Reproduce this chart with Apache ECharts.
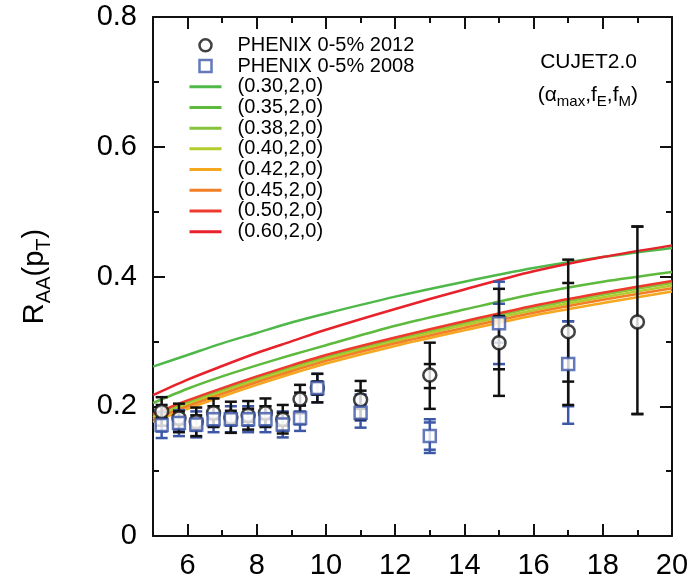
<!DOCTYPE html>
<html>
<head>
<meta charset="utf-8">
<script src="https://cdn.jsdelivr.net/npm/echarts@6/dist/echarts.min.js"></script>
<style>
  html, body { margin: 0; padding: 0; background: #fff; }
  #chart { width: 693px; height: 580px; }
</style>
</head>
<body>
<div id="chart"></div>
<script>
// PHENIX 0-5% 2012: pT, RAA, total error (down/up), statistical error (down/up)
const pt2012 = [5.25, 5.75, 6.25, 6.75, 7.25, 7.75, 8.25, 8.75, 9.25, 9.75, 11, 13, 15, 17, 19];
const raa2012 = [0.192, 0.182, 0.176, 0.190, 0.183, 0.186, 0.190, 0.180, 0.211, 0.228, 0.210, 0.248, 0.298, 0.315, 0.330];
const totLo2012 = [0.022, 0.022, 0.022, 0.022, 0.024, 0.022, 0.022, 0.022, 0.022, 0.022, 0.030, 0.052, 0.082, 0.113, 0.142];
const totHi2012 = [0.022, 0.022, 0.022, 0.022, 0.024, 0.022, 0.022, 0.022, 0.022, 0.022, 0.029, 0.050, 0.083, 0.111, 0.147];
const statLo2012 = [0.010, 0.010, 0.010, 0.010, 0.010, 0.010, 0.010, 0.010, 0.010, 0.010, 0.014, 0.020, 0.041, 0.077, 0.142];
const statHi2012 = [0.010, 0.010, 0.010, 0.010, 0.010, 0.010, 0.010, 0.010, 0.010, 0.010, 0.014, 0.017, 0.041, 0.075, 0.147];

// PHENIX 0-5% 2008
const pt2008 = [5.25, 5.75, 6.25, 6.75, 7.25, 7.75, 8.25, 8.75, 9.25, 9.75, 11, 13, 15, 17];
const raa2008 = [0.171, 0.174, 0.172, 0.180, 0.180, 0.180, 0.180, 0.172, 0.182, 0.228, 0.190, 0.154, 0.328, 0.265];
const totLo2008 = [0.020, 0.020, 0.020, 0.020, 0.020, 0.020, 0.020, 0.020, 0.020, 0.022, 0.023, 0.026, 0.063, 0.092];
const totHi2008 = [0.020, 0.020, 0.020, 0.020, 0.020, 0.020, 0.020, 0.020, 0.020, 0.022, 0.028, 0.026, 0.064, 0.066];
const statLo2008 = [0.010, 0.010, 0.010, 0.010, 0.010, 0.010, 0.010, 0.010, 0.010, 0.010, 0.012, 0.021, 0.030, 0.065];
const statHi2008 = [0.010, 0.010, 0.010, 0.010, 0.010, 0.010, 0.010, 0.010, 0.010, 0.010, 0.012, 0.021, 0.030, 0.066];

// CUJET2.0 curves (alpha_max, fE, fM), sampled on a common pT grid
const curvePt = [5, 6, 7, 8, 9, 10, 12, 14, 16, 18, 20];
const curveNames = ['(0.30,2,0)', '(0.35,2,0)', '(0.38,2,0)', '(0.40,2,0)', '(0.42,2,0)', '(0.45,2,0)', '(0.50,2,0)', '(0.60,2,0)'];
const curveColors = ['#4fb84a', '#5dba3c', '#86c23a', '#b3cc2e', '#f5a81f', '#f27f25', '#ee3a2b', '#e8222b'];
const raa030 = [0.261, 0.279, 0.297, 0.313, 0.329, 0.343, 0.369, 0.392, 0.413, 0.430, 0.444];
const raa035 = [0.205, 0.227, 0.246, 0.263, 0.279, 0.294, 0.324, 0.349, 0.373, 0.392, 0.407];
const raa038 = [0.186, 0.206, 0.225, 0.243, 0.260, 0.276, 0.303, 0.328, 0.352, 0.372, 0.390];
const raa040 = [0.183, 0.203, 0.222, 0.240, 0.257, 0.273, 0.300, 0.325, 0.348, 0.368, 0.386];
const raa042 = [0.176, 0.196, 0.215, 0.233, 0.250, 0.266, 0.293, 0.317, 0.340, 0.359, 0.377];
const raa045 = [0.180, 0.200, 0.219, 0.237, 0.254, 0.270, 0.297, 0.321, 0.344, 0.364, 0.382];
const raa050 = [0.188, 0.209, 0.228, 0.246, 0.263, 0.279, 0.306, 0.331, 0.355, 0.375, 0.393];
const raa060 = [0.217, 0.241, 0.262, 0.282, 0.300, 0.318, 0.350, 0.380, 0.408, 0.430, 0.448];
const curveValues = [raa030, raa035, raa038, raa040, raa042, raa045, raa050, raa060];

// Axis ranges
const xMin = 5, xMax = 20;
const yMin = 0, yMax = 0.8, yStep = 0.2;

const FONT = 'Liberation Sans, Arial, sans-serif';
const BLUE = '#3d57a7';
const BLACK = '#111111';

function zipErr(pt, raa, tlo, thi, slo, shi) {
  return pt.map((x, i) => [x, raa[i], tlo[i], thi[i], slo[i], shi[i]]);
}

// Vertical error bar with caps at the total and statistical limits
function makeErrorBar(color) {
  return function (params, api) {
    const x = api.value(0), y = api.value(1);
    const top = api.coord([x, y + api.value(3)]);
    const bot = api.coord([x, y - api.value(2)]);
    const sTop = api.coord([x, y + api.value(5)]);
    const sBot = api.coord([x, y - api.value(4)]);
    const hw = 6;
    const style = { stroke: color, lineWidth: 2.5 };
    const seg = (x1, y1, x2, y2) => ({ type: 'line', shape: { x1, y1, x2, y2 }, style });
    return {
      type: 'group',
      children: [
        seg(top[0], top[1], bot[0], bot[1]),
        seg(top[0] - hw, top[1], top[0] + hw, top[1]),
        seg(bot[0] - hw, bot[1], bot[0] + hw, bot[1]),
        seg(sTop[0] - hw, sTop[1], sTop[0] + hw, sTop[1]),
        seg(sBot[0] - hw, sBot[1], sBot[0] + hw, sBot[1])
      ]
    };
  };
}

const lineSeries = curveNames.map((name, k) => ({
  name,
  type: 'line',
  xAxisIndex: 0, yAxisIndex: 0,
  data: curvePt.map((x, i) => [x, curveValues[k][i]]),
  symbol: 'none',
  smooth: 0.3,
  lineStyle: { color: curveColors[k], width: 2.5 },
  itemStyle: { color: curveColors[k] },
  z: 3
}));

const tickLabel = { fontFamily: FONT, fontSize: 29, color: '#000' };

const legendData = [
  { name: 'PHENIX 0-5% 2012', icon: 'circle', itemStyle: { color: '#fff', borderColor: BLACK, borderWidth: 2.5 } },
  { name: 'PHENIX 0-5% 2008', icon: 'path://M0,0L10,0L10,10L0,10Z', itemStyle: { color: '#fff', borderColor: BLUE, borderWidth: 2.5 } }
].concat(curveNames.map((name, k) => ({
  name,
  itemStyle: { color: 'rgba(0,0,0,0)', borderColor: 'rgba(0,0,0,0)', borderWidth: 0 },
  lineStyle: { color: curveColors[k], width: 3 }
})));

const option = {
  animation: false,
  backgroundColor: '#fff',
  grid: { left: 153, top: 17, width: 519, height: 519, containLabel: false },
  legend: {
    orient: 'vertical',
    left: 183, top: 30,
    itemWidth: 32, itemHeight: 12, itemGap: 0,
    selectedMode: false,
    symbolKeepAspect: true,
    textStyle: { fontFamily: FONT, fontSize: 20, color: '#000', lineHeight: 20.7, padding: [0, 0, 0, 11] },
    data: legendData
  },
  xAxis: [
    {
      type: 'value', position: 'bottom', min: xMin, max: xMax, splitNumber: 7,
      axisLine: { show: true, lineStyle: { color: BLACK, width: 2 } },
      axisTick: { show: true, inside: true, length: 12, lineStyle: { color: BLACK, width: 2 } },
      axisLabel: Object.assign({ margin: 15, showMinLabel: false }, tickLabel),
      splitLine: { show: false }
    },
    {
      type: 'value', position: 'bottom', min: xMin, max: xMax, interval: 1,
      axisLine: { show: false },
      axisTick: { show: true, inside: true, length: 6, lineStyle: { color: BLACK, width: 2 } },
      axisLabel: { show: false }, splitLine: { show: false }
    },
    {
      type: 'value', position: 'top', min: xMin, max: xMax, splitNumber: 7,
      axisLine: { show: true, lineStyle: { color: BLACK, width: 2 } },
      axisTick: { show: true, inside: true, length: 12, lineStyle: { color: BLACK, width: 2 } },
      axisLabel: { show: false }, splitLine: { show: false }
    },
    {
      type: 'value', position: 'top', min: xMin, max: xMax, interval: 1,
      axisLine: { show: false },
      axisTick: { show: true, inside: true, length: 6, lineStyle: { color: BLACK, width: 2 } },
      axisLabel: { show: false }, splitLine: { show: false }
    }
  ],
  yAxis: [
    {
      type: 'value', position: 'left', min: yMin, max: yMax, interval: yStep,
      name: '{n|R}{s|AA}{n|(p}{s|T}{n|)}',
      nameLocation: 'middle', nameGap: 99,
      nameTextStyle: {
        rich: {
          n: { fontFamily: FONT, fontSize: 29, lineHeight: 38, color: '#000' },
          s: { fontFamily: FONT, fontSize: 20, lineHeight: 20, verticalAlign: 'bottom', color: '#000' }
        }
      },
      axisLine: { show: true, lineStyle: { color: BLACK, width: 2 } },
      axisTick: { show: true, inside: true, length: 12, lineStyle: { color: BLACK, width: 2 } },
      minorTick: { show: true, splitNumber: 2, length: 6, lineStyle: { color: BLACK, width: 2 } },
      axisLabel: Object.assign({ margin: 16 }, tickLabel),
      splitLine: { show: false }
    },
    {
      type: 'value', position: 'right', min: yMin, max: yMax, interval: yStep,
      axisLine: { show: true, lineStyle: { color: BLACK, width: 2 } },
      axisTick: { show: true, inside: true, length: 12, lineStyle: { color: BLACK, width: 2 } },
      minorTick: { show: true, splitNumber: 2, length: 6, lineStyle: { color: BLACK, width: 2 } },
      axisLabel: { show: false }, splitLine: { show: false }
    }
  ],
  graphic: [
    {
      type: 'text', x: 637, y: 62, z: 10,
      style: { text: 'CUJET2.0', align: 'right', verticalAlign: 'middle', fontFamily: FONT, fontSize: 21, fill: '#000' }
    },
    {
      type: 'text', x: 638, y: 95, z: 10,
      style: {
        text: '{n|(α}{s|max}{n|,f}{s|E}{n|,f}{s|M}{n|)}',
        align: 'right', verticalAlign: 'middle',
        rich: {
          n: { fontFamily: FONT, fontSize: 21, lineHeight: 28, fill: '#000' },
          s: { fontFamily: FONT, fontSize: 15, lineHeight: 15, verticalAlign: 'bottom', fill: '#000' }
        }
      }
    }
  ],
  series: lineSeries.concat([
    {
      name: 'PHENIX 0-5% 2008 bars', type: 'custom', xAxisIndex: 0, yAxisIndex: 0,
      renderItem: makeErrorBar(BLUE),
      data: zipErr(pt2008, raa2008, totLo2008, totHi2008, statLo2008, statHi2008),
      encode: { x: 0, y: 1 }, z: 4
    },
    {
      name: 'PHENIX 0-5% 2012 bars', type: 'custom', xAxisIndex: 0, yAxisIndex: 0,
      renderItem: makeErrorBar(BLACK),
      data: zipErr(pt2012, raa2012, totLo2012, totHi2012, statLo2012, statHi2012),
      encode: { x: 0, y: 1 }, z: 4
    },
    {
      name: 'PHENIX 0-5% 2012', type: 'scatter', xAxisIndex: 0, yAxisIndex: 0,
      data: pt2012.map((x, i) => [x, raa2012[i]]),
      symbol: 'circle', symbolSize: 13,
      itemStyle: { color: '#fff', borderColor: BLACK, borderWidth: 2.5 },
      z: 5
    },
    {
      name: 'PHENIX 0-5% 2008', type: 'scatter', xAxisIndex: 0, yAxisIndex: 0,
      data: pt2008.map((x, i) => [x, raa2008[i]]),
      symbol: 'rect', symbolSize: 12,
      itemStyle: { color: '#fff', borderColor: BLUE, borderWidth: 2.5 },
      z: 6
    }
  ])
};

const chart = echarts.init(document.getElementById('chart'), null, { renderer: 'canvas' });
chart.setOption(option);
</script>
</body>
</html>
